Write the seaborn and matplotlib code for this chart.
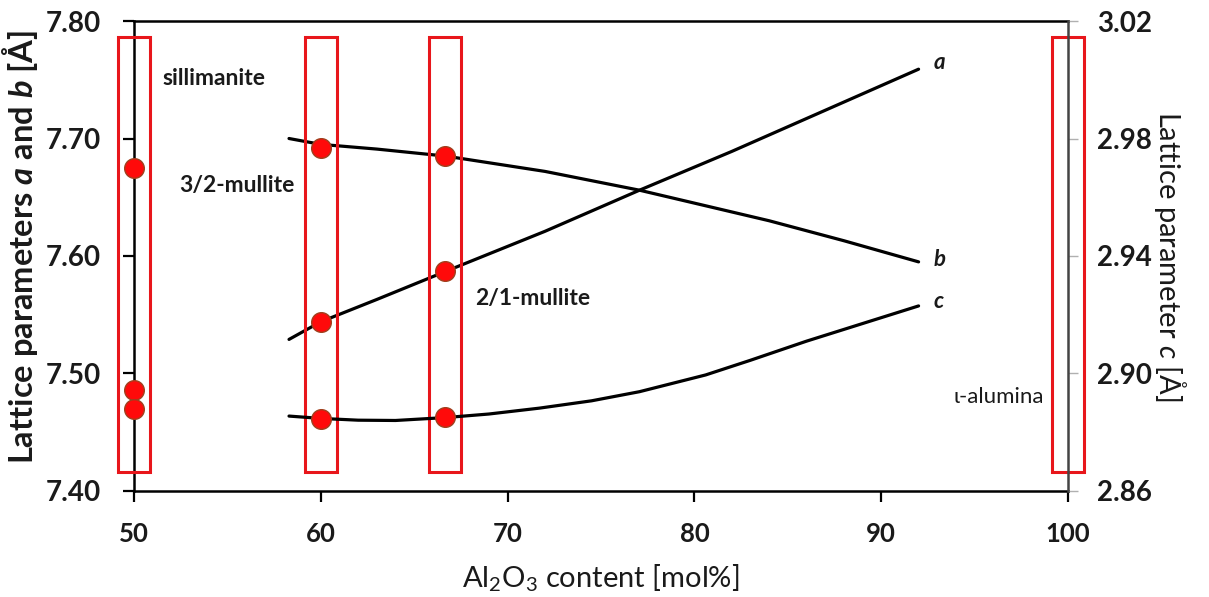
import matplotlib
matplotlib.use("Agg")
import matplotlib.pyplot as plt
import seaborn as sns

sns.set_theme(style="white")
plt.rcParams['font.family'] = ['Lato', 'DejaVu Sans']
plt.rcParams['mathtext.fontset'] = 'custom'
plt.rcParams['mathtext.rm'] = 'Lato'
plt.rcParams['mathtext.it'] = 'Lato:italic'
plt.rcParams['mathtext.bf'] = 'Lato:italic:bold'

# ---------------- data ----------------
# measured points (Al2O3 mol%)
phase_x = [50, 60, 66.67]
a_pts = [7.486, 7.544, 7.587]
b_pts = [7.675, 7.692, 7.685]
c_pts = [2.888, 2.8845, 2.8852]

# trend curves
curve_a_x = [58.3, 60, 63, 66.7, 72, 77.06, 82, 87, 92.0]
curve_a_y = [7.529, 7.544, 7.563, 7.587, 7.621, 7.656, 7.689, 7.724, 7.759]
curve_b_x = [58.3, 60, 63, 66.7, 72, 77.06, 80, 84, 88, 92.0]
curve_b_y = [7.700, 7.695, 7.691, 7.685, 7.672, 7.656, 7.645, 7.630, 7.613, 7.595]
curve_c_x = [58.3, 60, 62, 64, 66.7, 69, 71.7, 74.5, 77.06, 80.6, 83, 86.0, 89, 92.0]
curve_c_y = [2.8855, 2.8847, 2.8841, 2.8840, 2.8850, 2.8862, 2.8882, 2.8907, 2.8938,
             2.8995, 2.9045, 2.9110, 2.9170, 2.9230]

# highlighted phase compositions
box_centers = [50, 60, 66.67, 100]
box_bottom = 7.416
box_top = 7.786
box_width = 1.72

x_ticks = [50, 60, 70, 80, 90, 100]
ab_ticks = [7.40, 7.50, 7.60, 7.70, 7.80]
c_ticks = [2.86, 2.90, 2.94, 2.98, 3.02]

phase_labels = ["sillimanite", "3/2-mullite", "2/1-mullite", "ι-alumina"]
phase_label_x = [51.55, 52.45, 68.25, 98.7]
phase_label_y = [7.751, 7.660, 7.564, 7.480]

curve_labels = ["a", "b", "c"]
curve_label_x = [92.8, 92.8, 92.8]
curve_label_y = [7.765, 7.597, 7.561]

# ---------------- figure ----------------
fig = plt.figure(figsize=(12.09, 5.97), dpi=100)
ax = fig.add_axes([0.1108, 0.1776, 0.7726, 0.7872])
ax2 = ax.twinx()

ax.set_xlim(50, 100)
ax.set_ylim(7.40, 7.80)
ax2.set_ylim(2.86, 3.02)

red = "#E8161B"
line_kw = dict(color="black", linewidth=2.3, sort=False, estimator=None)
sns.lineplot(x=curve_a_x, y=curve_a_y, ax=ax, **line_kw)
sns.lineplot(x=curve_b_x, y=curve_b_y, ax=ax, **line_kw)
sns.lineplot(x=curve_c_x, y=curve_c_y, ax=ax2, **line_kw)

bars = ax.bar(box_centers, [box_top - box_bottom] * len(box_centers), bottom=box_bottom,
              width=box_width, fill=False, edgecolor=red, linewidth=2.2, zorder=4)
for p in bars.patches:
    p.set_clip_on(False)

pt_kw = dict(s=200, color="#FF0A0A", edgecolor="#A0401E", linewidth=1.0, zorder=6, clip_on=False)
sns.scatterplot(x=phase_x, y=a_pts, ax=ax, **pt_kw)
sns.scatterplot(x=phase_x, y=b_pts, ax=ax, **pt_kw)
sns.scatterplot(x=phase_x, y=c_pts, ax=ax2, **pt_kw)

# ticks
ax.set_xticks(x_ticks)
ax.set_xticklabels([str(t) for t in x_ticks])
ax.set_yticks(ab_ticks)
ax.set_yticklabels([f"{t:.2f}" for t in ab_ticks])
ax2.set_yticks(c_ticks)
ax2.set_yticklabels([f"{t:.2f}" for t in c_ticks])

ax.tick_params(axis="x", direction="out", length=8, width=1.6, color="black",
               pad=14, labelsize=18.5, bottom=True)
ax.tick_params(axis="y", direction="out", length=8, width=1.6, color="black",
               pad=16, labelsize=20, left=True)
ax2.tick_params(axis="y", direction="out", length=7, width=1.0, color="#b0b0b0",
                pad=14, labelsize=20, right=True)
for lbl in ax.get_yticklabels() + ax2.get_yticklabels() + ax.get_xticklabels():
    lbl.set_fontweight("bold")
    lbl.set_color("#1a1a1a")

for name in ["left", "bottom", "top"]:
    ax.spines[name].set_color("black")
    ax.spines[name].set_linewidth(1.8)
ax.spines["right"].set_visible(False)
for name in ["left", "bottom", "top"]:
    ax2.spines[name].set_visible(False)
ax2.spines["right"].set_color("#444444")
ax2.spines["right"].set_linewidth(1.8)
ax.grid(False)
ax2.grid(False)

ax.set_xlabel(r"Al$_2$O$_3$ content [mol%]", fontsize=21, color="#1a1a1a", labelpad=12)
ax.set_ylabel(r"Lattice parameters $\mathbf{a}$ and $\mathbf{b}$ [Å]", fontsize=23.5,
              fontweight="bold", color="#1a1a1a")
ax.yaxis.set_label_coords(-0.101, 0.52)
ax2.set_ylabel(r"Lattice parameter $c$ [Å]", fontsize=21, color="#1a1a1a",
               rotation=270, labelpad=26)

for txt, x, y in zip(phase_labels, phase_label_x, phase_label_y):
    if txt.startswith("ι"):
        ax.text(x, y, txt, ha="right", va="center", fontsize=16, color="#1a1a1a")
    else:
        ax.text(x, y, txt, ha="left", va="center", fontsize=16.5, fontweight="bold",
                color="#1a1a1a")

for txt, x, y in zip(curve_labels, curve_label_x, curve_label_y):
    ax.text(x, y, txt, ha="left", va="center", fontsize=16, fontstyle="italic",
            fontweight="bold", color="#1a1a1a")

fig.savefig("out.png", dpi=100)
